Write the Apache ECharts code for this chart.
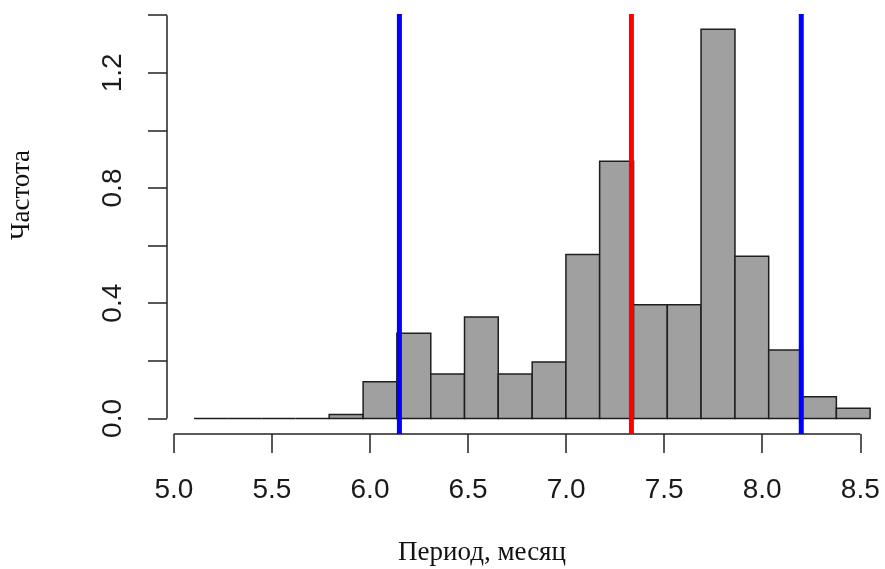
<!DOCTYPE html>
<html>
<head>
<meta charset="utf-8">
<script src="https://cdn.jsdelivr.net/npm/echarts@6/dist/echarts.min.js"></script>
<style>
  html, body { margin: 0; padding: 0; background: #fff; }
  #chart { width: 885px; height: 569px; }
</style>
</head>
<body>
<div id="chart"></div>
<script>
// Histogram of the period (months): bin breaks and density per bin
const breaks = [5.103, 5.275, 5.448, 5.620, 5.792, 5.965, 6.137, 6.310, 6.482, 6.654,
                6.827, 6.999, 7.171, 7.344, 7.516, 7.688, 7.861, 8.033, 8.205, 8.378, 8.550];
const density = [0, 0, 0, 0, 0.014, 0.127, 0.296, 0.154, 0.352, 0.154,
                 0.196, 0.569, 0.893, 0.395, 0.395, 1.351, 0.563, 0.238, 0.075, 0.035];

// Reference lines: mean and interval bounds
const meanValue = [7.333];
const intervalBounds = [6.150, 8.199];

// Axis ticks and labels
const xTicks = [5.0, 5.5, 6.0, 6.5, 7.0, 7.5, 8.0, 8.5];
const yTicks = [0.0, 0.2, 0.4, 0.6, 0.8, 1.0, 1.2, 1.4];
const yLabels = [0.0, 0.4, 0.8, 1.2];

const xTitle = 'Период, месяц';
const yTitle = 'Частота';

// plot region (R style: data range padded by 4%)
const xMin = 4.965, xMax = 8.626;
const yMin = -0.054, yMax = 1.404;

const binData = density.map((d, i) => [breaks[i], breaks[i + 1], d]);

const chart = echarts.init(document.getElementById('chart'), null, { renderer: 'canvas' });

const tickColor = '#222';
const labelFont = 'Liberation Sans, Arial, sans-serif';
const titleFont = 'Liberation Serif, Times New Roman, serif';

function vlineSeries(values, color) {
  return {
    type: 'custom',
    data: values.map(v => [v]),
    z: 5,
    renderItem: function (params, api) {
      const p0 = api.coord([api.value(0), yMin]);
      const p1 = api.coord([api.value(0), yMax]);
      return {
        type: 'line',
        shape: { x1: p0[0], y1: p0[1], x2: p1[0], y2: p1[1] },
        style: { stroke: color, lineWidth: 5 }
      };
    }
  };
}

const option = {
  animation: false,
  backgroundColor: '#fff',
  grid: { left: 167, right: 0, top: 14, bottom: 135 },
  xAxis: {
    type: 'value',
    min: xMin, max: xMax,
    axisLine: { show: false, onZero: false },
    splitLine: { show: false },
    axisTick: {
      show: true, customValues: xTicks, length: 19, inside: false,
      lineStyle: { color: tickColor, width: 1.5 }
    },
    axisLabel: {
      customValues: xTicks, margin: 42,
      formatter: v => v.toFixed(1),
      color: '#1a1a1a', fontSize: 28, fontFamily: labelFont
    }
  },
  yAxis: {
    type: 'value',
    min: yMin, max: yMax,
    axisLine: { show: false, onZero: false },
    splitLine: { show: false },
    axisTick: {
      show: true, customValues: yTicks, length: 19, inside: false,
      lineStyle: { color: tickColor, width: 1.5 }
    },
    axisLabel: {
      customValues: yLabels, margin: 40, rotate: 90,
      formatter: v => v.toFixed(1),
      color: '#1a1a1a', fontSize: 28, fontFamily: labelFont
    }
  },
  series: [
    {
      // histogram bars
      type: 'custom',
      data: binData,
      z: 2,
      renderItem: function (params, api) {
        const a = api.coord([api.value(0), 0]);
        const b = api.coord([api.value(1), api.value(2)]);
        if (api.value(2) === 0) {
          return {
            type: 'line',
            shape: { x1: a[0], y1: a[1], x2: b[0], y2: a[1] },
            style: { stroke: '#1e1e1e', lineWidth: 1.5 }
          };
        }
        return {
          type: 'rect',
          shape: { x: a[0], y: b[1], width: b[0] - a[0], height: a[1] - b[1] },
          style: { fill: '#a0a0a0', stroke: '#1e1e1e', lineWidth: 1.5 }
        };
      }
    },
    {
      // axis lines spanning the first to last tick
      type: 'custom',
      data: [[0]],
      z: 3,
      renderItem: function (params, api) {
        const xa = api.coord([xTicks[0], yMin]);
        const xb = api.coord([xTicks[xTicks.length - 1], yMin]);
        const ya = api.coord([xMin, yTicks[0]]);
        const yb = api.coord([xMin, yTicks[yTicks.length - 1]]);
        return {
          type: 'group',
          children: [
            { type: 'line', shape: { x1: xa[0], y1: xa[1], x2: xb[0], y2: xb[1] },
              style: { stroke: tickColor, lineWidth: 1.5 } },
            { type: 'line', shape: { x1: ya[0], y1: ya[1], x2: yb[0], y2: yb[1] },
              style: { stroke: tickColor, lineWidth: 1.5 } }
          ]
        };
      }
    },
    vlineSeries(intervalBounds, '#0000ff'),
    vlineSeries(meanValue, '#ff0000')
  ],
  graphic: [
    {
      type: 'text', x: 22, y: 195, rotation: Math.PI / 2,
      style: { text: yTitle, fontSize: 27, fontFamily: titleFont, fill: '#111',
               align: 'center', verticalAlign: 'middle' }
    },
    {
      type: 'text', x: 482, y: 553,
      style: { text: xTitle, fontSize: 27, fontFamily: titleFont, fill: '#111',
               align: 'center', verticalAlign: 'middle' }
    }
  ]
};

chart.setOption(option);
</script>
</body>
</html>
